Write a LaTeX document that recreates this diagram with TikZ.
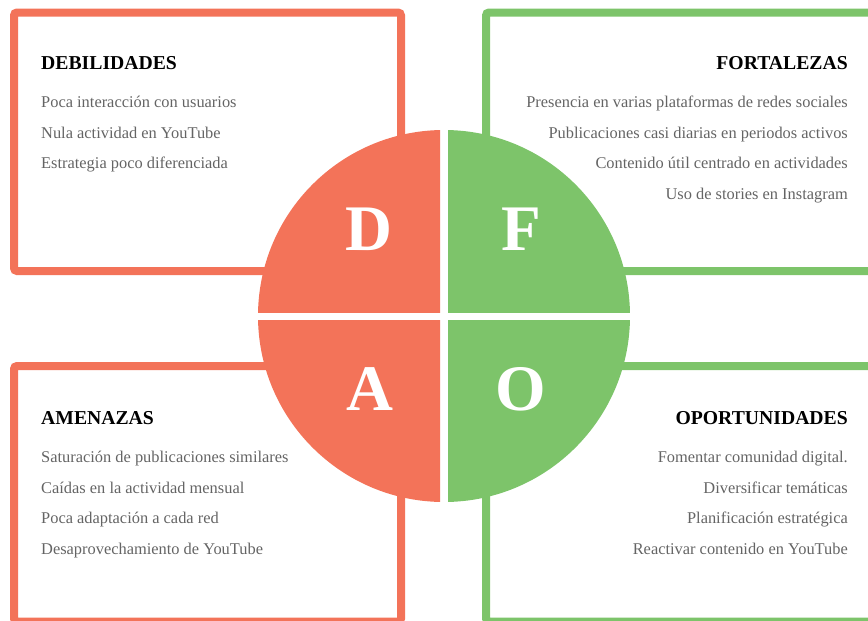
\documentclass[tikz,border=0pt]{standalone}
\usepackage{fontspec}
\setmainfont{Liberation Serif}
\definecolor{dred}{RGB}{243,115,89}
\definecolor{dgreen}{RGB}{125,196,106}
\definecolor{itemgray}{RGB}{100,100,100}
\tikzset{
  boxline/.style={line width=8pt, rounded corners=3pt},
  title/.style={inner sep=0pt, font=\fontsize{19.7}{22}\selectfont\bfseries, text=black},
  item/.style={inner sep=0pt, font=\fontsize{16.4}{19}\selectfont, text=itemgray},
  bigletter/.style={inner sep=0pt, anchor=base, font=\fontsize{65}{70}\selectfont\bfseries, text=white}
}
\begin{document}
\begin{tikzpicture}[x=1pt,y=-1pt]
\useasboundingbox (0,0) rectangle (868,621);
% boxes
\draw[boxline, draw=dred] (14,12.5) rectangle (401,271);
\draw[boxline, draw=dgreen] (486,12.5) rectangle (890,271);
\draw[boxline, draw=dred] (14,366) rectangle (401,621.5);
\draw[boxline, draw=dgreen] (486,366) rectangle (890,621.5);
% circle quarters
\begin{scope}
  \clip (200,100) rectangle (440,312);
  \fill[dred] (444,316) circle (186);
\end{scope}
\begin{scope}
  \clip (448,100) rectangle (700,312);
  \fill[dgreen] (444,316) circle (186);
\end{scope}
\begin{scope}
  \clip (200,320) rectangle (440,540);
  \fill[dred] (444,316) circle (186);
\end{scope}
\begin{scope}
  \clip (448,320) rectangle (700,540);
  \fill[dgreen] (444,316) circle (186);
\end{scope}
% letters
\node[bigletter] (lD) at (369,250) {D};
\node[bigletter] (lF) at (521,250) {F};
\node[bigletter] (lA) at (370,410) {A};
\node[bigletter] (lO) at (521,410) {O};
% Debilidades
\node[title, anchor=base west] (tD) at (41,69) {DEBILIDADES};
\node[item, anchor=base west] (d1) at (41,107) {Poca interacción con usuarios};
\node[item, anchor=base west] (d2) at (41,138) {Nula actividad en YouTube};
\node[item, anchor=base west] (d3) at (41,168) {Estrategia poco diferenciada};
% Fortalezas
\node[title, anchor=base east] (tF) at (848,69) {FORTALEZAS};
\node[item, anchor=base east] (f1) at (848,107) {Presencia en varias plataformas de redes sociales};
\node[item, anchor=base east] (f2) at (848,138) {Publicaciones casi diarias en periodos activos};
\node[item, anchor=base east] (f3) at (848,168) {Contenido útil centrado en actividades};
\node[item, anchor=base east] (f4) at (848,199) {Uso de stories en Instagram};
% Amenazas
\node[title, anchor=base west] (tA) at (41,424) {AMENAZAS};
\node[item, anchor=base west] (a1) at (41,462) {Saturación de publicaciones similares};
\node[item, anchor=base west] (a2) at (41,493) {Caídas en la actividad mensual};
\node[item, anchor=base west] (a3) at (41,523) {Poca adaptación a cada red};
\node[item, anchor=base west] (a4) at (41,554) {Desaprovechamiento de YouTube};
% Oportunidades
\node[title, anchor=base east] (tO) at (848,424) {OPORTUNIDADES};
\node[item, anchor=base east] (o1) at (848,462) {Fomentar comunidad digital.};
\node[item, anchor=base east] (o2) at (848,493) {Diversificar temáticas};
\node[item, anchor=base east] (o3) at (848,523) {Planificación estratégica};
\node[item, anchor=base east] (o4) at (848,554) {Reactivar contenido en YouTube};
\end{tikzpicture}
\end{document}
